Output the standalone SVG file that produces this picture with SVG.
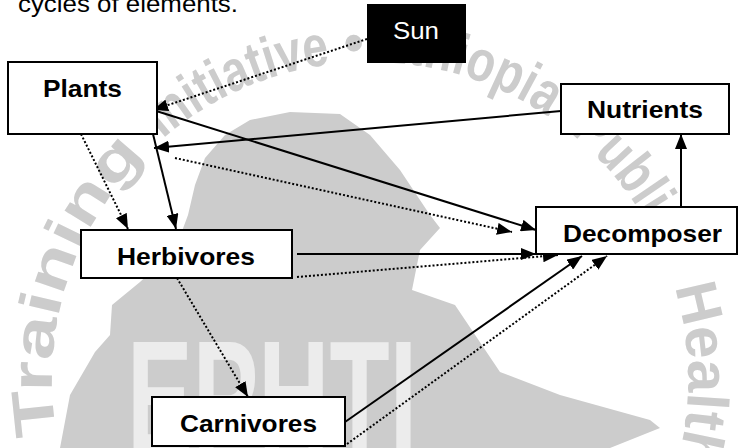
<svg xmlns="http://www.w3.org/2000/svg" width="739" height="448" viewBox="0 0 739 448">
<defs>
<style>
.box{fill:#fff;stroke:#000;stroke-width:2}
.lbl{font-family:"Liberation Sans",Arial,sans-serif;font-size:24px;font-weight:bold;fill:#000}
.solid{stroke:#000;stroke-width:2;fill:none;marker-end:url(#ah)}
.dot{stroke:#000;stroke-width:2;stroke-dasharray:2 2;fill:none;marker-end:url(#ah)}
.wm{font-family:"Liberation Sans",Arial,sans-serif;font-size:58px;font-weight:bold;fill:#cccccc}
</style>
<marker id="ah" markerUnits="userSpaceOnUse" markerWidth="16" markerHeight="12" refX="15" refY="6" orient="auto">
<path d="M0,0 L15,6 L0,12 z" fill="#000"/>
</marker>
<path id="ring" d="M370,62 A318,318 0 1 1 370,698 A318,318 0 1 1 370,62"/>
</defs>
<rect width="739" height="448" fill="#fff"/>
<g id="watermark">
<polygon fill="#cccccc" points="205,158 225,135 250,120 290,112 340,114 370,135 400,170 430,215 440,228 420,250 412,290 455,305 500,372 560,395 650,420 660,428 610,448 60,448 70,395 95,352 110,335 112,305 140,282 175,250 188,215 195,185"/>
<text x="127" y="452" font-family="'Liberation Sans',Arial,sans-serif" font-size="160" font-weight="bold" fill="#ececec" textLength="290" lengthAdjust="spacingAndGlyphs">EPHTI</text>
<text class="wm"><textPath href="#ring" startOffset="1443" textLength="305" lengthAdjust="spacingAndGlyphs">Training</textPath></text>
<text class="wm"><textPath href="#ring" startOffset="1772" textLength="186" lengthAdjust="spacingAndGlyphs">Initiative</textPath></text>
<text class="wm"><textPath href="#ring" startOffset="1972">•</textPath></text>
<text class="wm"><textPath href="#ring" startOffset="6" textLength="183" lengthAdjust="spacingAndGlyphs">Ethiopia</textPath></text>
<text class="wm"><textPath href="#ring" startOffset="216" textLength="139" lengthAdjust="spacingAndGlyphs">Public</textPath></text>
<text class="wm"><textPath href="#ring" startOffset="405" textLength="178" lengthAdjust="spacingAndGlyphs">Health</textPath></text>
</g>
<text x="18" y="12" font-family="'Liberation Sans',Arial,sans-serif" font-size="24" fill="#000" textLength="220" lengthAdjust="spacingAndGlyphs">cycles of elements.</text>
<g id="connectors">
<path class="dot" d="M367,39 L153,110"/>
<path class="solid" d="M153,110 L536,230"/>
<path class="dot" d="M175,158 L512,232"/>
<path class="solid" d="M561,111 L154,148"/>
<path class="solid" d="M153,134 L176,229"/>
<path class="dot" d="M81,134 L128,229"/>
<path class="solid" d="M297,254 L536,254"/>
<path class="dot" d="M297,277 L558,255"/>
<path class="solid" d="M345,422 L582,256"/>
<path class="dot" d="M347,444 L607,256"/>
<path class="dot" d="M177,278 L248,397"/>
<path class="solid" d="M681,207 L681,134"/>
</g>
<g id="sun">
<rect x="367" y="4" width="99" height="59" fill="#000"/>
<text x="393" y="39" font-family="'Liberation Sans',Arial,sans-serif" font-size="24" fill="#fff" textLength="46" lengthAdjust="spacingAndGlyphs">Sun</text>
</g>
<g id="plants">
<rect class="box" x="8" y="62" width="149" height="72"/>
<text class="lbl" x="43" y="97" textLength="79" lengthAdjust="spacingAndGlyphs">Plants</text>
</g>
<g id="nutrients">
<rect class="box" x="561" y="84" width="168" height="50"/>
<text class="lbl" x="587" y="118" textLength="116" lengthAdjust="spacingAndGlyphs">Nutrients</text>
</g>
<g id="herbivores">
<rect class="box" x="81" y="230" width="211" height="48"/>
<text class="lbl" x="117" y="265" textLength="138" lengthAdjust="spacingAndGlyphs">Herbivores</text>
</g>
<g id="decomposer">
<rect class="box" x="536" y="207" width="201" height="47"/>
<text class="lbl" x="563" y="242" textLength="159" lengthAdjust="spacingAndGlyphs">Decomposer</text>
</g>
<g id="carnivores">
<rect class="box" x="152" y="397" width="193" height="49"/>
<text class="lbl" x="180" y="432" textLength="137" lengthAdjust="spacingAndGlyphs">Carnivores</text>
</g>
</svg>
